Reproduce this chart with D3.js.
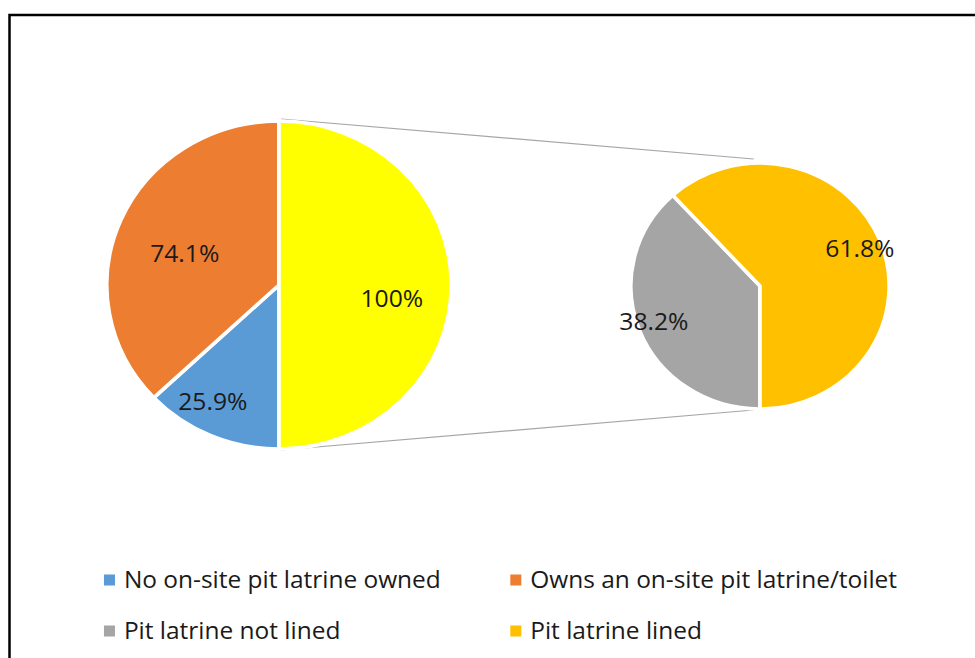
<!DOCTYPE html>
<html>
<head>
<meta charset="utf-8">
<script src="https://cdn.jsdelivr.net/npm/d3@7.9.0/dist/d3.min.js"></script>
<style>
  body { margin: 0; background: #fff; }
  svg { display: block; font-family: "Open Sans", "Liberation Sans", Arial, sans-serif; }
</style>
</head>
<body>
<svg id="chart" width="975" height="658"></svg>
<script>
// Primary pie: ownership of an on-site pit latrine (the yellow slice is the group split out on the right)
const mainLabels = ['No on-site pit latrine owned', 'Owns an on-site pit latrine/toilet', 'Pit latrine (split)'];
const mainValues = [25.9, 74.1, 100];
const mainText = ['25.9%', '74.1%', '100%'];

// Secondary pie: lining of the pit latrine
const subLabels = ['Pit latrine not lined', 'Pit latrine lined'];
const subValues = [38.2, 61.8];
const subText = ['38.2%', '61.8%'];

const colors = {
  'No on-site pit latrine owned': '#5B9BD5',
  'Owns an on-site pit latrine/toilet': '#ED7D31',
  'Pit latrine (split)': '#FFFF00',
  'Pit latrine not lined': '#A5A5A5',
  'Pit latrine lined': '#FFC000'
};

// legend order as in the picture
const legendItems = ['No on-site pit latrine owned', 'Owns an on-site pit latrine/toilet', 'Pit latrine not lined', 'Pit latrine lined'];

const svg = d3.select('#chart');

// frame (only top and left edges are visible in the crop)
svg.append('path')
  .attr('d', 'M9.5,658 V15 H975')
  .attr('fill', 'none')
  .attr('stroke', '#000')
  .attr('stroke-width', 2.5);

// the original picture is stretched a bit horizontally
const sx = 1.05;
const g = svg.append('g').attr('transform', `scale(${sx},1)`);

const pie = d3.pie().sort(null).value(d => d.value).startAngle(Math.PI).endAngle(3 * Math.PI);

// primary pie
const c1 = { x: 279 / sx, y: 285, r: 164 };
const arc1 = d3.arc().innerRadius(0).outerRadius(c1.r);
const mainArcs = pie(mainValues.map((v, i) => ({ value: v, label: mainLabels[i], text: mainText[i] })));

// secondary pie
const c2 = { x: 760 / sx, y: 286, r: 123 };
const arc2 = d3.arc().innerRadius(0).outerRadius(c2.r);
const subArcs = pie(subValues.map((v, i) => ({ value: v, label: subLabels[i], text: subText[i] })));

// connector lines between the split slice and the secondary pie
const connectors = [
  [[c1.x + 2, c1.y - c1.r - 2], [c2.x - 6, c2.y - c2.r - 4]],
  [[c1.x + 2, c1.y + c1.r + 1], [c2.x - 6, c2.y + c2.r + 1]]
];
g.selectAll('line.conn')
  .data(connectors)
  .join('line')
  .attr('class', 'conn')
  .attr('x1', d => d[0][0]).attr('y1', d => d[0][1])
  .attr('x2', d => d[1][0]).attr('y2', d => d[1][1])
  .attr('stroke', '#a6a6a6')
  .attr('stroke-width', 1.2);

function drawPie(cx, cy, arcs, arcGen) {
  const p = g.append('g').attr('transform', `translate(${cx},${cy})`);
  p.selectAll('path')
    .data(arcs)
    .join('path')
    .attr('d', arcGen)
    .attr('fill', d => colors[d.data.label])
    .attr('stroke', '#fff')
    .attr('stroke-width', 3.5)
    .attr('stroke-linejoin', 'round');
  return p;
}

const p1 = drawPie(c1.x, c1.y, mainArcs, arc1);
const p2 = drawPie(c2.x, c2.y, subArcs, arc2);

// data label placement: [fraction of radius, angle nudge in degrees]
const labelPlace1 = [[0.81, 5], [0.58, -4], [0.66, 7]];
const labelPlace2 = [[0.87, 2], [0.83, 0]];

function labelPos(d, r, place) {
  const a = (d.startAngle + d.endAngle) / 2 + place[1] * Math.PI / 180;
  return [Math.sin(a) * r * place[0], -Math.cos(a) * r * place[0]];
}

function drawLabels(p, arcs, r, places) {
  p.selectAll('text')
    .data(arcs)
    .join('text')
    .attr('transform', (d, i) => `translate(${labelPos(d, r, places[i])})`)
    .attr('text-anchor', 'middle')
    .attr('dy', '0.36em')
    .attr('font-size', 23.5)
    .attr('fill', '#1a1a1a')
    .text(d => d.data.text);
}

drawLabels(p1, mainArcs, c1.r, labelPlace1);
drawLabels(p2, subArcs, c2.r, labelPlace2);

// legend, two rows by two columns
const legendX = [99, 486];
const legendY = [580, 631];
const legend = g.selectAll('g.legend-item')
  .data(legendItems)
  .join('g')
  .attr('class', 'legend-item')
  .attr('transform', (d, i) => `translate(${legendX[i % 2]},${legendY[Math.floor(i / 2)]})`);

legend.append('rect')
  .attr('x', 0)
  .attr('y', -5.5)
  .attr('width', 10.5)
  .attr('height', 11)
  .attr('fill', d => colors[d]);

legend.append('text')
  .attr('x', 19)
  .attr('dy', '0.36em')
  .attr('font-size', 23.3)
  .attr('fill', '#1a1a1a')
  .text(d => d);
</script>
</body>
</html>
